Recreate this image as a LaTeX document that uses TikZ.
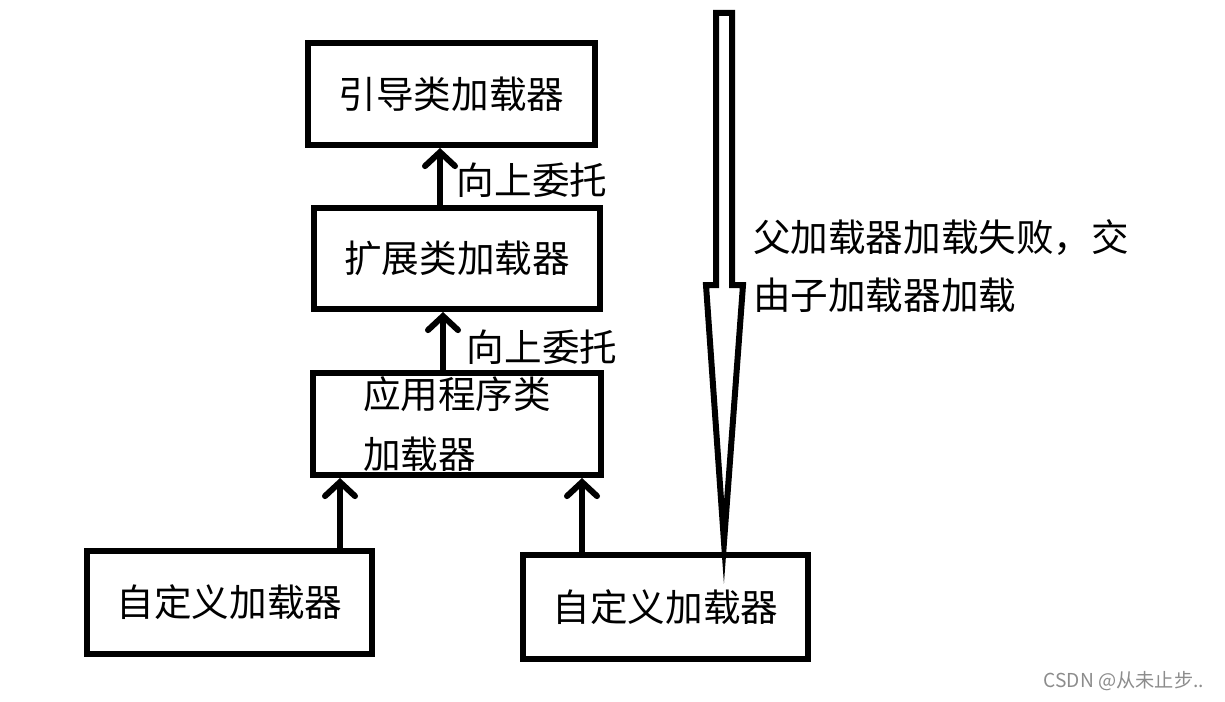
\documentclass[tikz,border=0pt]{standalone}
\usepackage{fontspec}
\setmainfont{Noto Sans CJK SC}
\usetikzlibrary{arrows.meta}
\tikzset{
  loader/.style={draw, line width=3pt, inner sep=0pt, font=\fontsize{18.8}{30}\selectfont},
  up/.style={line width=3pt, -{Straight Barb[length=7pt,width=15pt,line cap=round]}},
  tag/.style={font=\fontsize{18.8}{29}\selectfont}
}
\begin{document}
\begin{tikzpicture}[x=0.5pt,y=-0.5pt]
\useasboundingbox (0,0) rectangle (1225,701);

% loaders
\node[loader, minimum width=143.5pt, minimum height=51pt] (boot) at (451.5,94) {引导类加载器};
\node[loader, minimum width=143pt, minimum height=50.5pt] (ext) at (457,258.5) {扩展类加载器};
\node[loader, minimum width=144pt, minimum height=51pt, align=left] (app) at (457,424) {\raisebox{-2.5pt}{应用程序类}\\\raisebox{-2.5pt}{加载器}};
\node[loader, minimum width=142.5pt, minimum height=51.5pt] (custA) at (229.5,602.5) {自定义加载器};
\node[loader, minimum width=142.5pt, minimum height=52pt] (custB) at (665.5,607) {自定义加载器};

% delegation
\draw[up] (ext.north -| 440,0) -- (boot.south -| 440,0);
\draw[up] (app.north -| 443,0) -- (ext.south -| 443,0);
\draw[up] (custA.north -| 340,0) -- (app.south -| 340,0);
\draw[up] (custB.north -| 582,0) -- (app.south -| 582,0);

\node[tag] (up1) at (532,180) {向上委托};
\node[tag] (up2) at (542,347) {向上委托};

% big arrow
\draw[line width=3pt, miter limit=20] (716,13) -- (732,13) -- (732,285) -- (743,285)
  -- (724,542) -- (706,285) -- (716,285) -- cycle;

\node[tag, anchor=west, align=left] (fail) at (746,266) {父加载器加载失败，交\\由子加载器加载};

\node[anchor=east, text=black!45, font=\fontsize{9.6}{11}\selectfont] (mark) at (1211,681) {CSDN @从未止步..};
\end{tikzpicture}
\end{document}
